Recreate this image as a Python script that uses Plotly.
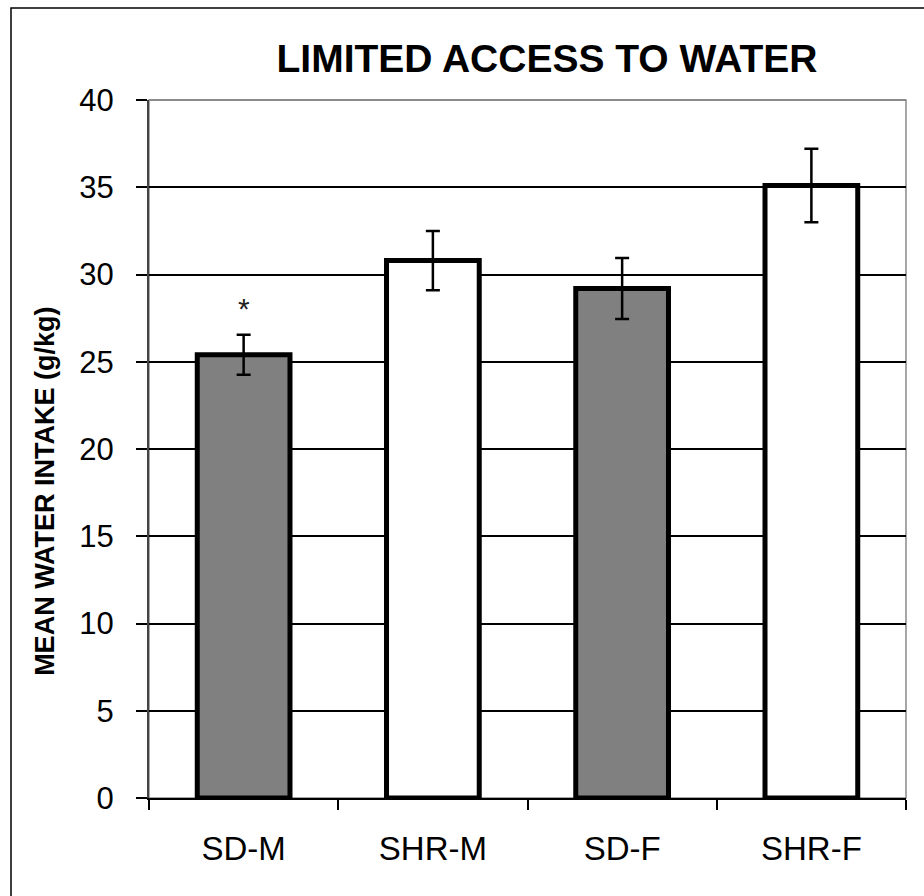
import plotly.graph_objects as go

# Mean water intake per group with SEM
groups = ["SD-M", "SHR-M", "SD-F", "SHR-F"]
mean_intake = [25.4, 30.8, 29.2, 35.1]
sem_intake = [1.15, 1.7, 1.75, 2.1]
bar_fill = ["#808080", "#ffffff", "#808080", "#ffffff"]
y_ticks = [0, 5, 10, 15, 20, 25, 30, 35, 40]

FONT = "Liberation Sans, Arial, sans-serif"

fig = go.Figure()
fig.add_trace(go.Bar(
    x=groups,
    y=mean_intake,
    width=0.49,
    marker=dict(color=bar_fill, line=dict(color="black", width=5)),
    error_y=dict(type="data", array=sem_intake, visible=True,
                 color="black", thickness=2.5, width=7),
    showlegend=False,
))

# significance marker above SD-M
fig.add_annotation(
    x=groups[0], y=mean_intake[0] + sem_intake[0],
    text="*", showarrow=False, yanchor="bottom", yshift=8,
    font=dict(family=FONT, size=30, color="#222222"),
)

# y-axis title
fig.add_annotation(
    xref="paper", yref="paper", x=-0.1374, y=0.44,
    text="<b>MEAN WATER INTAKE (g/kg)</b>", textangle=-90, showarrow=False,
    xanchor="center", yanchor="middle",
    font=dict(family=FONT, size=27, color="black"),
)

# light plot frame (top and right edges)
fig.add_shape(type="rect", xref="paper", yref="paper", x0=0, x1=1, y0=0, y1=1,
              line=dict(color="#8a8a8a", width=1.5), layer="below")
fig.add_shape(type="line", xref="paper", yref="paper", x0=0, x1=1, y0=1, y1=1,
              line=dict(color="#8a8a8a", width=2))

# outer chart border
fig.add_shape(type="rect", xref="paper", yref="paper",
              x0=-0.1823, x1=1.2, y0=-0.3, y1=1.1318,
              line=dict(color="black", width=1.5), layer="below")

fig.update_layout(
    width=924, height=896,
    margin=dict(l=149, r=18, t=100, b=98),
    paper_bgcolor="white", plot_bgcolor="white",
    bargap=0.51,
    title=dict(text="<b>LIMITED ACCESS TO WATER</b>", x=0.592, xanchor="center",
               y=0.935, yanchor="middle",
               font=dict(family=FONT, size=39, color="black")),
    font=dict(family=FONT, color="black"),
)

fig.update_xaxes(
    showline=True, linecolor="black", linewidth=2,
    ticks="outside", ticklen=10, tickwidth=1.5, tickcolor="black",
    tickson="boundaries", ticklabelstandoff=20,
    tickfont=dict(family=FONT, size=33, color="black"),
    showgrid=False,
)

fig.update_yaxes(
    range=[0, 40], tickvals=y_ticks,
    showline=True, linecolor="#444444", linewidth=2,
    ticks="outside", ticklen=11, tickwidth=1.5, tickcolor="black",
    ticklabelstandoff=16,
    showgrid=True, gridcolor="black", gridwidth=1.6,
    zeroline=False,
    tickfont=dict(family=FONT, size=31, color="black"),
)

fig.write_html("out.html")
